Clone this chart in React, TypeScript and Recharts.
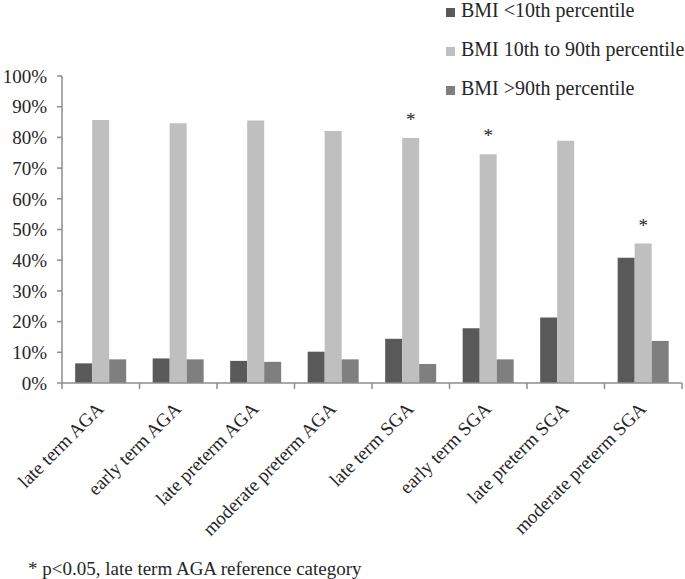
import React from 'react'
import { BarChart, Bar, XAxis, YAxis, LabelList } from 'recharts'

const categories = [
  'late term AGA',
  'early term AGA',
  'late preterm AGA',
  'moderate preterm AGA',
  'late term SGA',
  'early term SGA',
  'late preterm SGA',
  'moderate preterm SGA',
]
const below10 = [6.4, 8.0, 7.2, 10.2, 14.4, 17.8, 21.3, 40.8]
const between10and90 = [85.7, 84.6, 85.5, 82.1, 79.8, 74.5, 78.9, 45.4]
const above90 = [7.7, 7.7, 6.9, 7.7, 6.2, 7.7, 0, 13.7]
// * p<0.05 vs late term AGA
const significant = [false, false, false, false, true, true, false, true]
const yTicks = [0, 10, 20, 30, 40, 50, 60, 70, 80, 90, 100]

const seriesNames = ['BMI <10th percentile', 'BMI 10th to 90th percentile', 'BMI >90th percentile']
const seriesColors = ['#595959', '#bfbfbf', '#7f7f7f']

const FONT = '"Liberation Serif", "Times New Roman", serif'
const AXIS = '#8c8c8c'
const TEXT = '#262626'

const data = categories.map((name, i) => ({
  name,
  low: below10[i],
  normal: between10and90[i],
  high: above90[i],
  mark: significant[i] ? '*' : null,
}))

function CategoryTick(props: any) {
  const { x, y, payload, index, visibleTicksCount } = props
  const half = payload && typeof payload.offset === 'number' && payload.offset > 0 ? payload.offset : 38.75
  const last = index === (visibleTicksCount ?? categories.length) - 1
  return (
    <g>
      <line x1={x - half} y1={y} x2={x - half} y2={y + 6} stroke={AXIS} strokeWidth={1.5} />
      {last && <line x1={x + half} y1={y} x2={x + half} y2={y + 6} stroke={AXIS} strokeWidth={1.5} />}
      <text
        x={x + 4}
        y={y + 27}
        textAnchor="end"
        transform={`rotate(-45, ${x + 4}, ${y + 27})`}
        fontFamily={FONT}
        fontSize={19}
        fill={TEXT}
      >
        {payload.value}
      </text>
    </g>
  )
}

export default function App() {
  return (
    <div style={{ position: 'absolute', left: 0, top: 0, width: 685, height: 579, background: '#fff' }}>
      <BarChart
        width={685}
        height={579}
        data={data}
        margin={{ top: 76, right: 3, bottom: 0, left: 0 }}
        barCategoryGap="17%"
        barGap={0}
      >
        <XAxis
          dataKey="name"
          height={196}
          interval={0}
          axisLine={{ stroke: AXIS, strokeWidth: 1.5 }}
          tickLine={false}
          tickSize={0}
          tickMargin={0}
          tick={<CategoryTick />}
        />
        <YAxis
          width={62}
          domain={[0, 100]}
          ticks={yTicks}
          interval={0}
          tickFormatter={(v: number) => `${v}%`}
          axisLine={{ stroke: AXIS, strokeWidth: 1.5 }}
          tickLine={{ stroke: AXIS, strokeWidth: 1.5 }}
          tickSize={5}
          tickMargin={10}
          tick={{ fontFamily: FONT, fontSize: 19, fill: TEXT }}
        />
        <Bar dataKey="low" name={seriesNames[0]} fill={seriesColors[0]} isAnimationActive={false} />
        <Bar dataKey="normal" name={seriesNames[1]} fill={seriesColors[1]} isAnimationActive={false}>
          <LabelList
            dataKey="mark"
            position="top"
            offset={12}
            style={{ fontFamily: FONT, fontSize: 19, fill: TEXT }}
          />
        </Bar>
        <Bar dataKey="high" name={seriesNames[2]} fill={seriesColors[2]} isAnimationActive={false} />
      </BarChart>

      {/* legend, top right */}
      <div style={{ position: 'absolute', left: 446, top: -9, fontFamily: FONT, fontSize: 20, color: TEXT }}>
        {seriesNames.map((n, i) => (
          <div key={n} style={{ display: 'flex', alignItems: 'center', height: 39, whiteSpace: 'nowrap' }}>
            <span
              style={{
                display: 'inline-block',
                width: 9,
                height: 9,
                background: seriesColors[i],
                marginRight: 6,
                marginTop: 3,
              }}
            />
            {n}
          </div>
        ))}
      </div>

      <div
        style={{
          position: 'absolute',
          left: 28,
          top: 558,
          fontFamily: FONT,
          fontSize: 19,
          color: TEXT,
          whiteSpace: 'nowrap',
        }}
      >
        * p&lt;0.05, late term AGA reference category
      </div>
    </div>
  )
}
